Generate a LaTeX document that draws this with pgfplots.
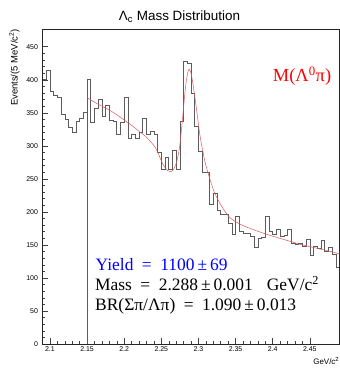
\documentclass[border=0pt]{standalone}
\usepackage{pgfplots}
\pgfplotsset{compat=1.18}
\usepackage{fontspec}
\setmainfont{Liberation Sans}
\newfontfamily\tms{Liberation Serif}
\definecolor{histc}{rgb}{0.36,0.36,0.36}
\definecolor{fitc}{rgb}{0.85,0.35,0.35}
\begin{document}
\begin{tikzpicture}[x=1bp,y=1bp]
\path[use as bounding box] (0,0) rectangle (340,370);
\begin{axis}[
  at={(42.5bp,26bp)}, anchor=south west,
  scale only axis, width=297bp, height=314.5bp,
  xmin=2.09, xmax=2.49, ymin=0, ymax=476,
  axis line style={black!85, line width=0.5pt},
  tick align=inside, xtick pos=bottom, ytick pos=left,
  xtick={2.1,2.15,2.2,2.25,2.3,2.35,2.4,2.45},
  ytick={0,50,100,150,200,250,300,350,400,450},
  minor x tick num=4, minor y tick num=4,
  major tick length=6bp, minor tick length=3bp,
  tick style={black!75, line width=0.4pt},
  /pgf/number format/assume math mode=true,
  ticklabel style={font=\fontsize{7}{8}\selectfont},
  xticklabel style={/pgf/number format/fixed, /pgf/number format/precision=2, yshift=1bp},
  yticklabel style={xshift=-1bp},
  clip=true,
]
\addplot[const plot, histc, line width=0.55pt] table {
x y
2.090 400
2.095 415
2.100 382
2.105 377
2.110 374
2.115 347
2.120 340
2.125 328
2.130 321
2.135 337
2.140 342
2.145 351
2.150 400
2.155 336
2.160 357
2.165 370
2.170 345
2.175 362
2.180 338
2.185 337
2.190 318
2.195 335
2.200 373
2.205 312
2.210 318
2.215 312
2.220 320
2.225 342
2.230 318
2.235 322
2.240 318
2.245 290
2.250 264
2.255 282
2.260 264
2.265 293
2.270 264
2.275 337
2.280 428
2.285 425
2.290 380
2.295 330
2.300 292
2.305 260
2.310 260
2.315 211
2.320 228
2.325 202
2.330 197
2.335 197
2.340 183
2.345 166
2.350 193
2.355 171
2.360 168
2.365 167
2.370 163
2.375 146
2.380 160
2.385 162
2.390 193
2.395 171
2.400 166
2.405 174
2.410 163
2.415 165
2.420 173
2.425 153
2.430 151
2.435 153
2.440 148
2.445 158
2.450 134
2.455 148
2.460 145
2.465 157
2.470 141
2.475 146
2.480 136
2.485 116
2.490 116
};
\addplot[histc, line width=0.55pt] coordinates {(2.15,0) (2.15,373)};
\addplot[smooth, tension=0.4, fitc, line width=0.5pt] coordinates {
(2.150,373)(2.160,366)(2.170,360)(2.180,354)(2.190,347)(2.200,339)(2.210,331)(2.220,322)(2.228,315)(2.235,307)(2.2415,298)(2.246,288)(2.2505,276)(2.255,267)(2.2594,262)(2.263,261)(2.2662,264)(2.270,273)(2.2744,296)(2.278,334)(2.2825,388)(2.2855,410)(2.2875,416)(2.290,410)(2.2926,394)(2.2976,354)(2.302,316)(2.3088,276)(2.3156,249)(2.322,228)(2.332,207)(2.3425,191)(2.355,182)(2.3694,175)(2.3919,166)(2.4142,158.5)(2.4367,151)(2.4592,145)(2.4815,139)(2.49,136)
};
\end{axis}
% title
\node[anchor=base, inner sep=0pt, font=\fontsize{13.5}{15}\selectfont] at (179.5,350) {Λ\textsubscript{c} Mass Distribution};
% y label
\node[rotate=90, anchor=east, inner sep=0pt, font=\fontsize{9.5}{10}\selectfont] at (14.5,341) {Events/(5 MeV/c\textsuperscript{2})};
% x label
\node[anchor=base east, inner sep=0pt, font=\fontsize{8}{9}\selectfont] at (339.5,6) {GeV/c\textsuperscript{2}};
% annotations
\node[anchor=base west, inner sep=0pt, text=red, font=\tms\fontsize{18.5}{20}\selectfont] at (272.7,288.3) {M(Λ\textsuperscript{0}π)};
\node[anchor=base west, inner sep=0pt, text=blue, font=\tms\fontsize{17.5}{19}\selectfont] at (95.5,99.3) {Yield\hspace{8.5bp}=\hspace{8.5bp}1100\hspace{3bp}±\hspace{3bp}69};
\node[anchor=base west, inner sep=0pt, font=\tms\fontsize{17.5}{19}\selectfont] at (95,79.3) {Mass\hspace{8.5bp}=\hspace{8.5bp}2.288\hspace{3bp}±\hspace{3bp}0.001\hspace{14bp}GeV/c\textsuperscript{2}};
\node[anchor=base west, inner sep=0pt, font=\tms\fontsize{17.5}{19}\selectfont] at (95,59.3) {BR(Σπ/Λπ)\hspace{8.5bp}=\hspace{8.5bp}1.090\hspace{3bp}±\hspace{3bp}0.013};
\end{tikzpicture}
\end{document}
